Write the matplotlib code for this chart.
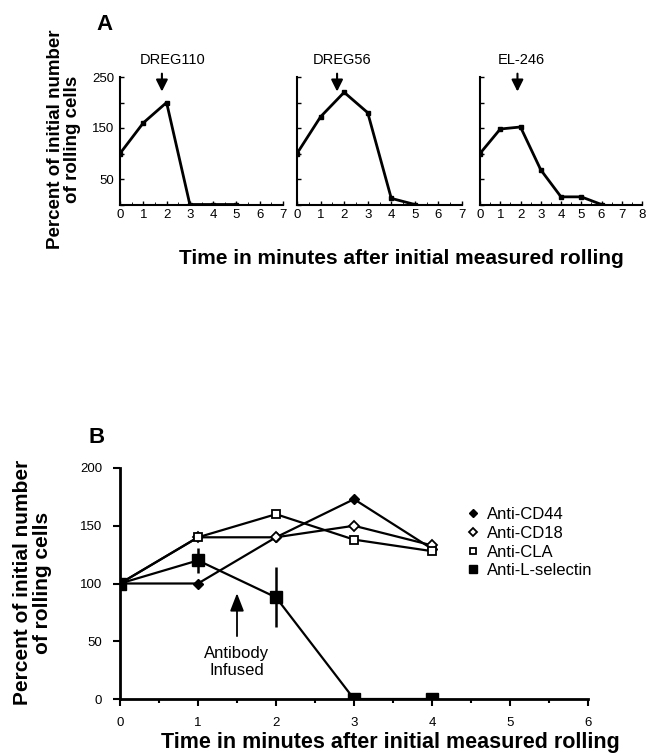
import matplotlib
matplotlib.use("Agg")
import matplotlib.pyplot as plt
import numpy as np

plt.rcParams['font.family'] = ['Liberation Sans', 'DejaVu Sans']

# panel A data
a_minutes = [[0, 1, 2, 3, 4, 5], [0, 1, 2, 3, 4, 5], [0, 1, 2, 3, 4, 5, 6]]
a_values = [[100, 160, 200, 0, 0, 0],
            [100, 172, 220, 180, 12, 0],
            [100, 148, 152, 68, 15, 15, 0]]
a_names = ['DREG110', 'DREG56', 'EL-246']
a_arrow_x = [1.8, 1.7, 1.85]
a_label_x = [2.25, 1.9, 2.05]
a_xmax = [7, 7, 8]

# panel B data
b_minutes = [0, 1, 2, 3, 4]
cd44 = [100, 100, 140, 173, 130]
cd18 = [100, 140, 140, 150, 133]
cla = [100, 140, 160, 138, 128]
lsel = [100, 120, 88, 0, 0]
lsel_err = [0, 11, 26, 0, 0]

fig = plt.figure(figsize=(6.46, 7.55), dpi=100)

ylab = "Percent of initial number\nof rolling cells"
xlab = "Time in minutes after initial measured rolling"

lefts = [120/646, 297/646, 480/646]
widths = [163/646, 165/646, 162/646]
for i in range(3):
    ax = fig.add_axes([lefts[i], 1-204.5/755, widths[i], 127.5/755])
    ax.plot(a_minutes[i], a_values[i], color='black', lw=2, marker='s', ms=3)
    ax.set_xlim(0, a_xmax[i])
    ax.set_ylim(0, 250)
    ax.spines['top'].set_visible(False)
    ax.spines['right'].set_visible(False)
    ax.spines['left'].set_linewidth(1.5)
    ax.spines['bottom'].set_linewidth(1.5)
    ax.set_xticks(range(a_xmax[i]+1))
    ax.set_xticks(np.arange(0.5, a_xmax[i], 1), minor=True)
    ax.set_yticks([0, 50, 100, 150, 200, 250])
    if i == 0:
        ax.set_yticklabels(['', '50', '', '150', '', '250'])
    else:
        ax.set_yticklabels([])
    ax.tick_params(axis='both', direction='in', length=3, width=1, labelsize=9.5, pad=3)
    ax.tick_params(axis='y', pad=4)
    ax.tick_params(axis='x', which='minor', direction='in', length=2)
    ax.annotate('', xy=(a_arrow_x[i], 216), xytext=(a_arrow_x[i], 262),
                annotation_clip=False,
                arrowprops=dict(arrowstyle='-|>,head_length=0.7,head_width=0.35',
                                color='black', lw=1.5))
    ax.text(a_label_x[i], 283, a_names[i], ha='center', va='center',
            fontsize=10.5, clip_on=False)

fig.text(0.1625, 0.967, 'A', fontsize=16, fontweight='bold', ha='center', va='center')
fig.text(0.099, 0.815, ylab, rotation=90, fontsize=13.5, fontweight='bold',
         ha='center', va='center', linespacing=1.05)
fig.text(0.622, 0.658, xlab, fontsize=15, fontweight='bold', ha='center', va='center')

# panel B
ax = fig.add_axes([120/646, 1-699/755, 468/646, 231/755])
ax.plot(b_minutes, cd44, color='black', lw=1.6, marker='D', ms=5, label='Anti-CD44')
ax.plot(b_minutes, cd18, color='black', lw=1.6, marker='D', ms=5, mfc='white',
        mew=1.3, label='Anti-CD18')
ax.plot(b_minutes, cla, color='black', lw=1.6, marker='s', ms=6, mfc='white',
        mew=1.3, label='Anti-CLA')
ax.plot(b_minutes, lsel, color='black', lw=1.6, marker='s', ms=8.5,
        label='Anti-L-selectin')
ax.errorbar(b_minutes, lsel, yerr=lsel_err, fmt='none', ecolor='black',
            elinewidth=1.8, capsize=0)
ax.set_xlim(0, 6)
ax.set_ylim(0, 200)
ax.spines['top'].set_visible(False)
ax.spines['right'].set_visible(False)
ax.spines['left'].set_linewidth(2)
ax.spines['bottom'].set_linewidth(2)
ax.set_xticks(range(7))
ax.set_xticks(np.arange(0.5, 6, 1), minor=True)
ax.set_yticks([0, 50, 100, 150, 200])
ax.tick_params(axis='both', direction='out', length=5, width=1.5, labelsize=9.5, pad=8)
ax.tick_params(axis='x', which='minor', direction='out', length=3, width=1.5)
ax.annotate('Antibody\nInfused', xy=(1.5, 94), xytext=(1.5, 32),
            ha='center', va='center', fontsize=12, linespacing=1.2,
            arrowprops=dict(arrowstyle='-|>,head_length=0.9,head_width=0.35',
                            color='black', lw=1.3, shrinkA=5))
leg = ax.legend(loc='upper left', bbox_to_anchor=(0.712, 0.895), frameon=False,
                fontsize=12, handlelength=0.6, handletextpad=0.55, labelspacing=0.22,
                markerscale=0.75)
for h in leg.legend_handles:
    h.set_linestyle('None')

fig.text(0.150, 0.421, 'B', fontsize=16, fontweight='bold', ha='center', va='center')
fig.text(0.050, 0.228, ylab, rotation=90, fontsize=15, fontweight='bold',
         ha='center', va='center', linespacing=1.05)
fig.text(0.604, 0.016, xlab, fontsize=15.5, fontweight='bold', ha='center', va='center')

fig.savefig('out.png', dpi=100)
